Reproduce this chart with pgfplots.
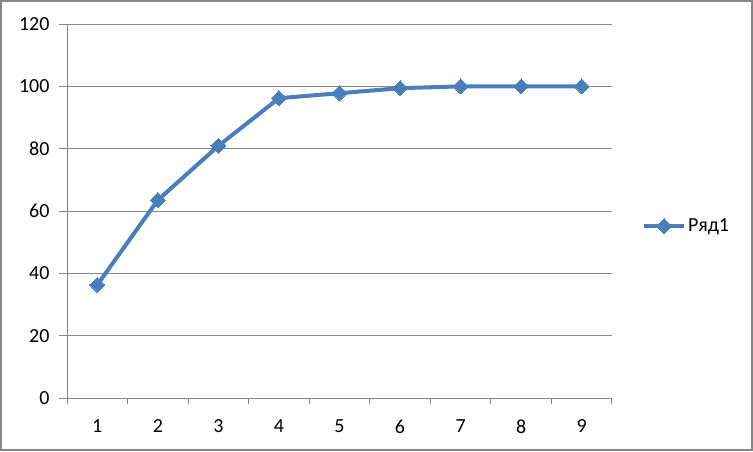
\documentclass[border=0pt]{standalone}
\usepackage{pgfplots}
\pgfplotsset{compat=1.18}
\usepackage{fontspec}
\setmainfont{Carlito}
\definecolor{serieblue}{RGB}{74,126,187}
\definecolor{gridgray}{RGB}{134,134,134}
\begin{document}
\begin{tikzpicture}[x=1pt,y=1pt]
\useasboundingbox (0,0) rectangle (753,451);
\draw[gridgray, line width=2pt] (1,1) rectangle (752,450);
\begin{axis}[
  at={(67pt,53pt)}, anchor=south west,
  scale only axis, width=545pt, height=374pt,
  xmin=0.5, xmax=9.5, ymin=0, ymax=120,
  xtick={1,...,9},
  minor xtick={0.5,1.5,...,9.5},
  ytick={0,20,...,120},
  axis x line=bottom, axis y line=left,
  axis line style={gridgray, line width=1pt, -},
  ymajorgrids,
  grid style={gridgray, line width=1pt},
  tick align=outside,
  major tick length=8pt, minor tick length=6pt,
  major x tick style={draw=none},
  minor x tick style={gridgray, line width=1pt},
  major y tick style={gridgray, line width=1pt},
  tick label style={font=\fontsize{20}{24}\selectfont, text=black},
  /pgf/number format/assume math mode=true,
  yticklabel style={xshift=-6pt},
  xticklabel style={yshift=-10pt},
  legend style={at={(1.055,0.46)}, anchor=west, draw=none, fill=none,
    font=\fontsize{20}{24}\selectfont, inner sep=0pt},
  legend cell align=left,
  legend image code/.code={\draw[mark repeat=2,mark phase=2] plot coordinates {(0pt,0pt) (20pt,0pt) (40pt,0pt)};},
]
\addplot[serieblue, line width=4pt, mark=square*, mark size=5.3pt, mark options={solid, rotate=45, line width=0pt, fill=serieblue}]
  coordinates {(1,36.3) (2,63.5) (3,80.9) (4,96.2) (5,97.8) (6,99.4) (7,100) (8,100) (9,100)};
\addlegendentry{Ряд1}
\end{axis}
\end{tikzpicture}
\end{document}
